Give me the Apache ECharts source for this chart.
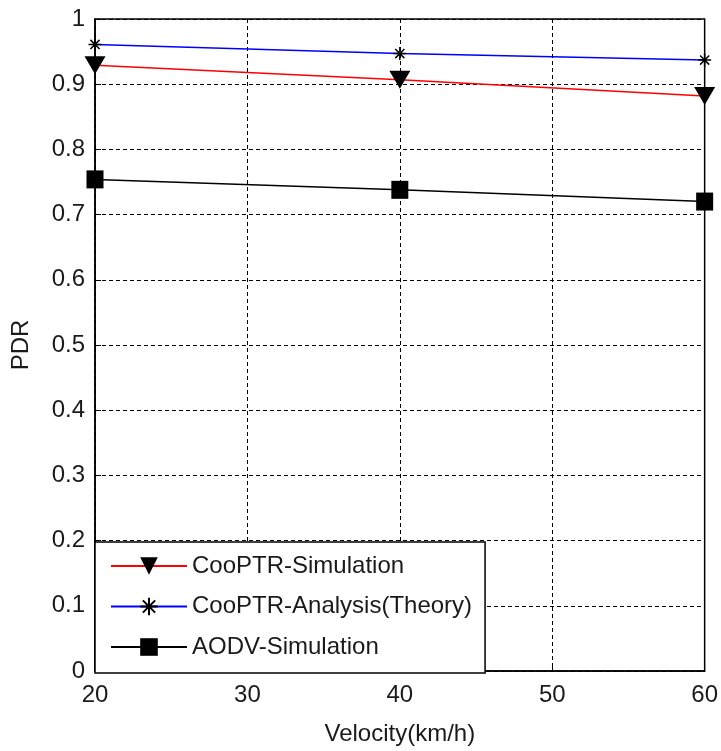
<!DOCTYPE html>
<html>
<head>
<meta charset="utf-8">
<script src="https://cdn.jsdelivr.net/npm/echarts@6/dist/echarts.min.js"></script>
<style>
  html, body { margin: 0; padding: 0; background: #fff; }
  #chart { width: 721px; height: 751px; }
</style>
</head>
<body>
<div id="chart"></div>
<script>
// Packet delivery ratio vs. vehicle velocity
const velocities = [20, 40, 60];
const coopSim = [0.929, 0.907, 0.882];
const coopTheory = [0.961, 0.947, 0.937];
const aodvSim = [0.754, 0.738, 0.720];
const seriesNames = ['CooPTR-Simulation', 'CooPTR-Analysis(Theory)', 'AODV-Simulation'];

const FONT = '"Liberation Sans", Arial, sans-serif';
const FS = 24;
const TEXT = '#1a1a1a';

const pair = (xs, ys) => xs.map((x, i) => [x, ys[i]]);

const chart = echarts.init(document.getElementById('chart'), null, { renderer: 'canvas' });

// asterisk marker: plus + cross, stroked only
const asterisk = 'path://M0,-1L0,1M-1,0L1,0M-0.7,-0.7L0.7,0.7M-0.7,0.7L0.7,-0.7';
const triDown = 'path://M0,0L2,0L1,1.7Z';

chart.setOption({
  animation: false,
  backgroundColor: '#fff',
  textStyle: { fontFamily: FONT, color: TEXT },
  grid: {
    left: 95, right: 12, top: 19, bottom: 78,
    show: true, borderColor: '#000', borderWidth: 1.5, backgroundColor: '#fff'
  },
  legend: {
    data: seriesNames,
    orient: 'vertical',
    left: 95, bottom: 78,
    padding: [12, 13, 14, 15],
    itemWidth: 76, itemHeight: 22, itemGap: 16.5,
    backgroundColor: '#fff', borderColor: '#000', borderWidth: 1.5, borderRadius: 0,
    textStyle: { fontFamily: FONT, fontSize: FS, color: TEXT, lineHeight: 22 }
  },
  xAxis: {
    type: 'value', min: 20, max: 60, interval: 10,
    name: 'Velocity(km/h)', nameLocation: 'middle', nameGap: 51,
    nameTextStyle: { fontFamily: FONT, fontSize: FS, color: TEXT },
    axisLine: { show: true, lineStyle: { color: '#000', width: 1.5 } },
    axisTick: { show: true, inside: true, length: 6, lineStyle: { color: '#000' } },
    axisLabel: { fontFamily: FONT, fontSize: FS, color: TEXT, margin: 12 },
    splitLine: { show: true, lineStyle: { color: '#000', width: 1, type: [4, 3] } }
  },
  yAxis: {
    type: 'value', min: 0, max: 1, interval: 0.1,
    name: 'PDR', nameLocation: 'middle', nameGap: 62,
    nameTextStyle: { fontFamily: FONT, fontSize: FS, color: TEXT },
    axisLine: { show: true, lineStyle: { color: '#000', width: 1.5 } },
    axisTick: { show: true, inside: true, length: 6, lineStyle: { color: '#000' } },
    axisLabel: { fontFamily: FONT, fontSize: FS, color: TEXT, margin: 10 },
    splitLine: { show: true, lineStyle: { color: '#000', width: 1, type: [4, 3] } }
  },
  series: [
    {
      name: seriesNames[0], type: 'line', data: pair(velocities, coopSim),
      lineStyle: { color: '#ff0000', width: 1.5 },
      symbol: triDown, symbolSize: [21, 18],
      itemStyle: { color: '#000', borderColor: '#000', borderWidth: 0 },
      z: 3
    },
    {
      name: seriesNames[1], type: 'line', data: pair(velocities, coopTheory),
      lineStyle: { color: '#0000ff', width: 1.5 },
      symbol: asterisk, symbolSize: 13,
      itemStyle: { color: 'none', borderColor: '#000', borderWidth: 1.5 },
      z: 3
    },
    {
      name: seriesNames[2], type: 'line', data: pair(velocities, aodvSim),
      lineStyle: { color: '#000', width: 1.5 },
      symbol: 'rect', symbolSize: [17, 18],
      itemStyle: { color: '#000', borderWidth: 0 },
      z: 3
    }
  ]
});
</script>
</body>
</html>
